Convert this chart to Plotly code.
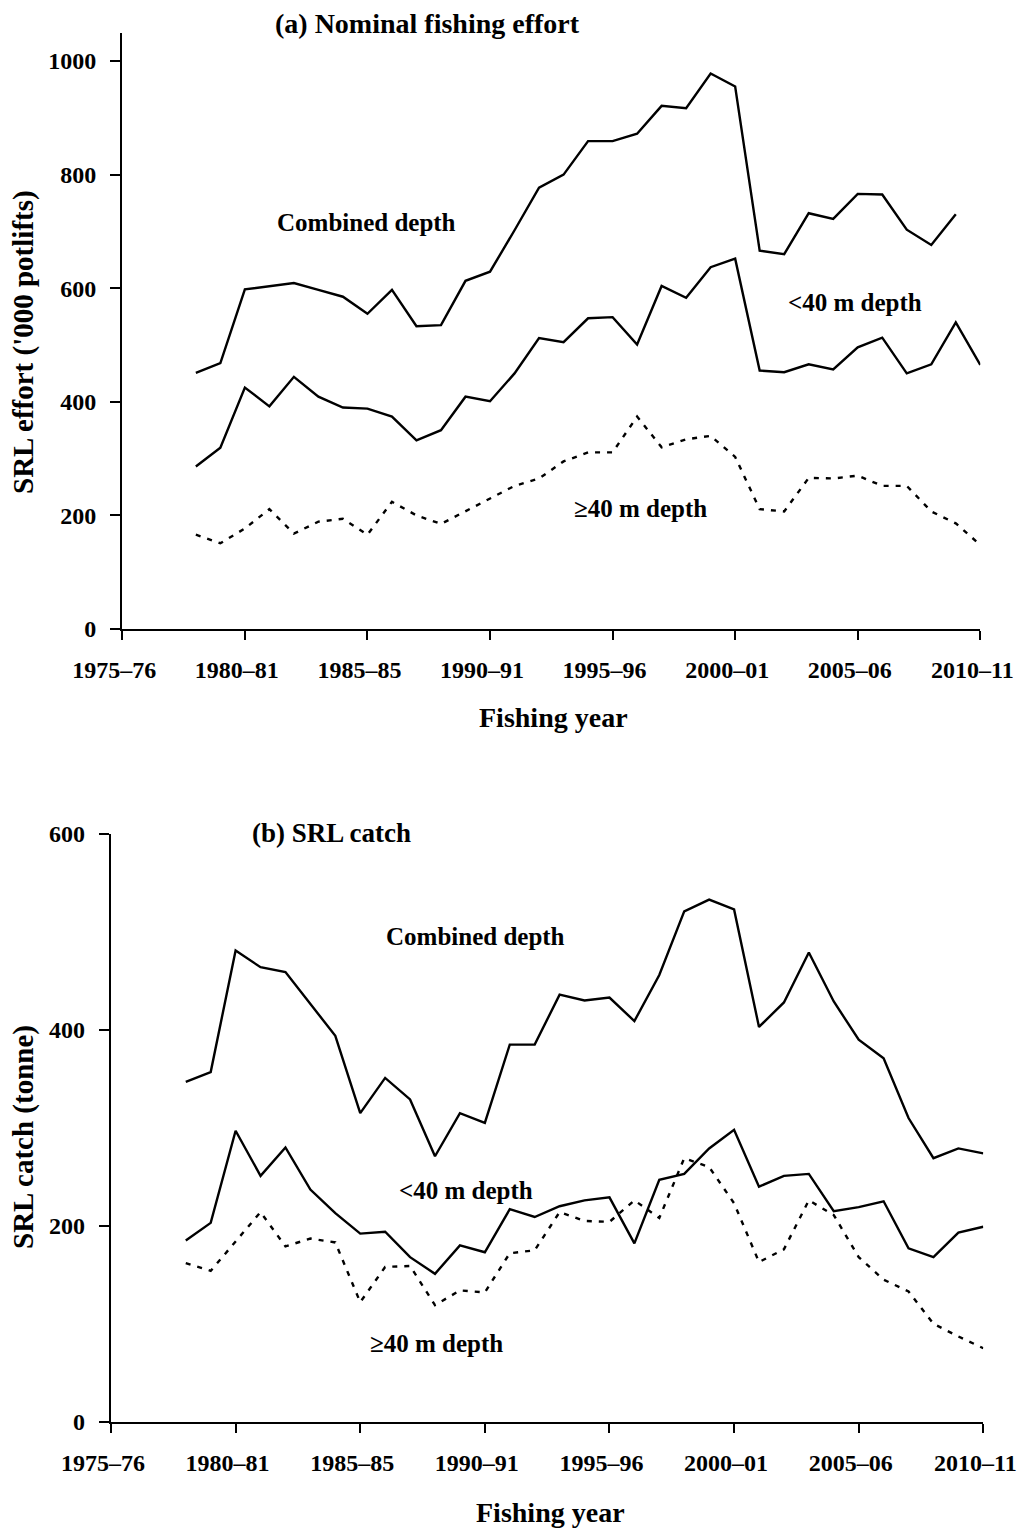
import plotly.graph_objects as go

# Fishing years (start year of each season)
years = list(range(1978, 2011))
years_comb_effort = list(range(1978, 2010))

tick_years = [1975, 1980, 1985, 1990, 1995, 2000, 2005, 2010]
tick_labels = ["1975–76", "1980–81", "1985–85", "1990–91", "1995–96",
               "2000–01", "2005–06", "2010–11"]

# (a) Nominal fishing effort ('000 potlifts)
effort_combined = [451, 468, 598, 603, 609, 597, 585, 555, 597, 533, 535, 613,
                   629, 702, 777, 800, 859, 859, 872, 921, 917, 978, 955, 666,
                   660, 732, 722, 766, 765, 703, 676, 730]
effort_shallow = [286, 319, 425, 392, 444, 409, 390, 388, 374, 332, 350, 409,
                  401, 450, 512, 505, 547, 549, 501, 604, 583, 637, 652, 455,
                  452, 466, 457, 496, 513, 450, 466, 540, 465]
effort_deep = [166, 151, 177, 211, 168, 189, 194, 166, 224, 200, 185, 207,
               230, 252, 265, 295, 311, 311, 374, 320, 334, 340, 303, 211,
               207, 266, 265, 270, 252, 252, 207, 186, 148]

# (b) SRL catch (tonne)
catch_combined = [347, 357, 481, 464, 459, 426, 394, 315, 351, 329, 271, 315,
                  305, 385, 385, 436, 430, 433, 409, 456, 521, 533, 523, 403,
                  428, 479, 429, 390, 371, 310, 269, 279, 274]
catch_shallow = [185, 203, 297, 251, 280, 237, 213, 192, 194, 168, 151, 180,
                 173, 217, 209, 220, 226, 229, 182, 247, 253, 279, 298, 240,
                 251, 253, 215, 219, 225, 177, 168, 193, 199]
catch_deep = [162, 154, 184, 214, 179, 187, 183, 122, 158, 159, 119, 134,
              132, 172, 175, 214, 205, 204, 226, 208, 269, 260, 223, 163,
              176, 226, 211, 168, 145, 133, 100, 87, 75]

W, H = 1022, 1528
FONT = "Liberation Serif"
solid = dict(color="black", width=2.4)
dotted = dict(color="black", width=2.4, dash="5px,7px")


def px(x):
    return x / W


def py(y):
    return 1 - y / H


fig = go.Figure()
fig.add_trace(go.Scatter(x=years_comb_effort, y=effort_combined, mode="lines",
                         line=solid, xaxis="x", yaxis="y"))
fig.add_trace(go.Scatter(x=years, y=effort_shallow, mode="lines",
                         line=solid, xaxis="x", yaxis="y"))
fig.add_trace(go.Scatter(x=years, y=effort_deep, mode="lines",
                         line=dotted, xaxis="x", yaxis="y"))
fig.add_trace(go.Scatter(x=years, y=catch_combined, mode="lines",
                         line=solid, xaxis="x2", yaxis="y2"))
fig.add_trace(go.Scatter(x=years, y=catch_shallow, mode="lines",
                         line=solid, xaxis="x2", yaxis="y2"))
fig.add_trace(go.Scatter(x=years, y=catch_deep, mode="lines",
                         line=dotted, xaxis="x2", yaxis="y2"))

tickfont = dict(family=FONT, size=24, color="black", weight="bold")
common_x = dict(range=[1975, 2010], tickmode="array", tickvals=tick_years,
                ticktext=tick_labels, showline=True, linecolor="black",
                linewidth=2.3, ticks="outside", ticklen=9, tickwidth=2.3,
                tickcolor="black", showgrid=False, zeroline=False,
                tickfont=tickfont, ticklabelstandoff=9, ticklabelshift=-8,
                ticklabeloverflow="allow", automargin=False)
common_y = dict(showline=True, linecolor="black", linewidth=2.3,
                ticks="outside", ticklen=10, tickwidth=2.3, tickcolor="black",
                showgrid=False, zeroline=False, tickfont=tickfont,
                ticklabelstandoff=9, automargin=False)

fig.update_layout(
    width=W, height=H,
    margin=dict(l=0, r=0, t=0, b=0),
    paper_bgcolor="white", plot_bgcolor="white",
    showlegend=False,
    xaxis=dict(domain=[px(122.3), px(980.3)], anchor="y", **common_x),
    yaxis=dict(domain=[py(629), py(32.6)], anchor="x", range=[0, 1050],
               tickvals=[0, 200, 400, 600, 800, 1000], **common_y),
    xaxis2=dict(domain=[px(111), px(983.3)], anchor="y2", **common_x),
    yaxis2=dict(domain=[py(1421.7), py(834)], anchor="x2", range=[0, 600],
                tickvals=[0, 200, 400, 600], **common_y),
)

# text, centre x, centre y (pixels), angle, font size
labels = [
    ("(a) Nominal fishing effort", 427, 24, 0, 28),
    ("Combined depth", 366, 222, 0, 25),
    ("<40 m depth", 855, 303, 0, 25),
    ("≥40 m depth", 640, 508, 0, 25),
    ("SRL effort ('000 potlifts)", 23, 342, -90, 29),
    ("Fishing year", 553, 717, 0, 28),
    ("(b) SRL catch", 331, 833, 0, 27),
    ("Combined depth", 475, 937, 0, 25),
    ("<40 m depth", 466, 1190, 0, 25),
    ("≥40 m depth", 436, 1343, 0, 25),
    ("SRL catch (tonne)", 23, 1137, -90, 29),
    ("Fishing year", 550, 1512, 0, 28),
]
for text, x, y, ang, size in labels:
    fig.add_annotation(text="<b>%s</b>" % text.replace("<", "&lt;"),
                       xref="paper", yref="paper", x=px(x), y=py(y),
                       xanchor="center", yanchor="middle", showarrow=False,
                       textangle=ang,
                       font=dict(family=FONT, size=size, color="black"))

fig.write_html("out.html")
